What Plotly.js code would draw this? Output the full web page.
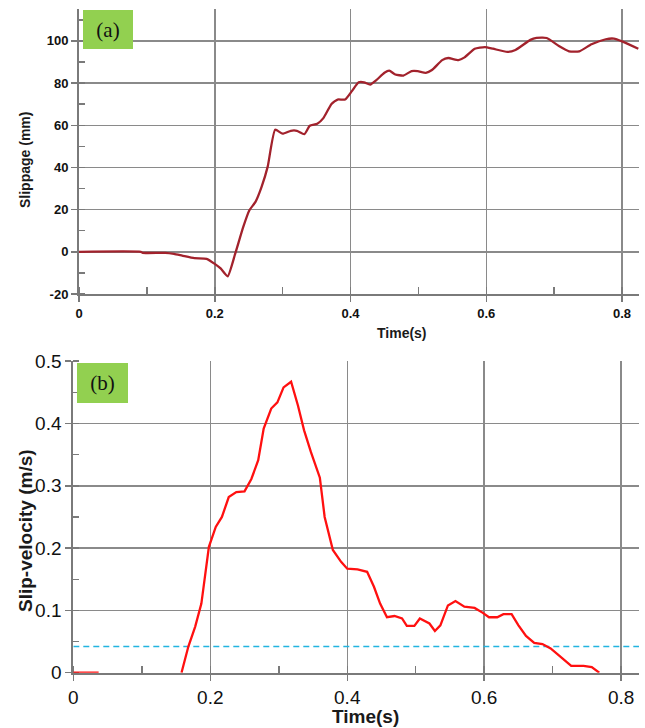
<!DOCTYPE html>
<html>
<head>
<meta charset="utf-8">
<script src="https://cdn.plot.ly/plotly-3.0.1.min.js"></script>
<style>
html,body{margin:0;padding:0;background:#fff;}
#chart{width:645px;height:728px;}
</style>
</head>
<body>
<div id="chart"></div>
<script>
// (a) Slippage vs time
const timeA = [0, 0.091, 0.094, 0.127, 0.14, 0.152, 0.17, 0.188, 0.2, 0.209, 0.219, 0.23, 0.242, 0.251, 0.26, 0.269, 0.278, 0.289, 0.3, 0.312, 0.321, 0.332, 0.34, 0.351, 0.36, 0.372, 0.381, 0.392, 0.402, 0.412, 0.42, 0.429, 0.438, 0.45, 0.457, 0.466, 0.478, 0.49, 0.499, 0.511, 0.52, 0.535, 0.544, 0.559, 0.568, 0.583, 0.598, 0.61, 0.631, 0.643, 0.665, 0.674, 0.689, 0.707, 0.722, 0.737, 0.755, 0.776, 0.788, 0.8, 0.824];
const slippage = [0, 0, -0.5, -0.5, -1, -1.8, -3, -3.3, -5.7, -8, -11.6, -1, 11.8, 19.7, 23.7, 30.8, 40.4, 57.9, 56, 57.4, 57.4, 55.8, 59.8, 60.7, 63.4, 70.1, 72.2, 72.2, 76.2, 80.4, 80.4, 79.3, 81.4, 84.9, 85.9, 84.1, 83.6, 85.7, 85.7, 84.9, 86.2, 90.9, 91.9, 90.9, 92.2, 96.3, 97.1, 96.3, 94.8, 95.7, 100.5, 101.4, 101.4, 97.6, 95.1, 95.1, 98.4, 100.8, 101.1, 99.8, 96.3];

// (b) Slip-velocity vs time (null = gap in the record)
const timeB = [0, 0.037, null, 0.158, 0.168, 0.178, 0.187, 0.198, 0.208, 0.217, 0.227, 0.238, 0.25, 0.26, 0.27, 0.278, 0.289, 0.298, 0.307, 0.318, 0.328, 0.337, 0.347, 0.36, 0.367, 0.379, 0.391, 0.4, 0.415, 0.429, 0.439, 0.448, 0.458, 0.469, 0.48, 0.487, 0.498, 0.506, 0.52, 0.528, 0.536, 0.547, 0.558, 0.571, 0.586, 0.598, 0.607, 0.619, 0.628, 0.64, 0.65, 0.661, 0.673, 0.685, 0.697, 0.709, 0.727, 0.745, 0.757, 0.768];
const slipVelocity = [0, 0, null, 0, 0.042, 0.074, 0.111, 0.202, 0.234, 0.25, 0.282, 0.29, 0.291, 0.311, 0.341, 0.392, 0.424, 0.434, 0.458, 0.467, 0.429, 0.389, 0.354, 0.313, 0.25, 0.197, 0.178, 0.167, 0.166, 0.162, 0.138, 0.111, 0.089, 0.091, 0.087, 0.075, 0.075, 0.087, 0.079, 0.067, 0.076, 0.108, 0.115, 0.106, 0.104, 0.096, 0.089, 0.089, 0.094, 0.094, 0.076, 0.059, 0.048, 0.046, 0.039, 0.028, 0.011, 0.011, 0.009, 0];

const threshold = 0.042;
const xRangeA = [0, 0.825];
const xRangeB = [0, 0.826];
const xTicks = [0, 0.2, 0.4, 0.6, 0.8];
const xTickText = ["0", "0.2", "0.4", "0.6", "0.8"];
const yTicksA = [-20, 0, 20, 40, 60, 80, 100];
const yTickTextA = ["-20", "0", "20", "40", "60", "80", "100"];
const yTicksB = [0, 0.1, 0.2, 0.3, 0.4, 0.5];
const yTickTextB = ["0", "0.1", "0.2", "0.3", "0.4", "0.5"];

const W = 645, H = 728;
const px = v => v / W;
const py = v => 1 - v / H;

const GRID = '#8a8a8a';
const AXIS = '#7a7a7a';
const FONT = 'Liberation Sans, Arial, sans-serif';

const traces = [
  {x: timeA, y: slippage, type: 'scatter', mode: 'lines', xaxis: 'x', yaxis: 'y',
   line: {color: '#a2222c', width: 2.3, shape: 'spline', smoothing: 0.5}, hoverinfo: 'skip'},
  {x: xRangeB, y: [threshold, threshold], type: 'scatter', mode: 'lines', xaxis: 'x2', yaxis: 'y2',
   line: {color: '#22b4e0', width: 1.6, dash: '6px,4px'}, hoverinfo: 'skip'},
  {x: timeB, y: slipVelocity, type: 'scatter', mode: 'lines', xaxis: 'x2', yaxis: 'y2',
   connectgaps: false, line: {color: '#ff1010', width: 2.3}, hoverinfo: 'skip', cliponaxis: false}
];

const commonAxis = {
  showline: true, linecolor: AXIS, linewidth: 2,
  showgrid: true, gridcolor: GRID, gridwidth: 1.5,
  zeroline: false, ticks: 'outside', ticklen: 6, tickcolor: AXIS, tickwidth: 1.5,
  fixedrange: true, layer: 'below traces'
};

const layout = {
  width: W, height: H,
  margin: {l: 0, r: 0, t: 0, b: 0},
  paper_bgcolor: '#ffffff', plot_bgcolor: '#ffffff',
  showlegend: false,
  xaxis: Object.assign({}, commonAxis, {
    domain: [px(79), px(639)], anchor: 'y', range: xRangeA,
    tickvals: xTicks, ticktext: xTickText,
    tickfont: {family: FONT, size: 13, color: '#111', weight: 'bold'},
    minor: {dtick: 0.1, tick0: 0, ticks: 'inside', ticklen: 7, tickcolor: AXIS, tickwidth: 1.5, showgrid: false}
  }),
  yaxis: Object.assign({}, commonAxis, {
    domain: [py(294), py(9.3)], anchor: 'x', range: [-20, 115],
    tickvals: yTicksA, ticktext: yTickTextA,
    tickfont: {family: FONT, size: 13, color: '#111', weight: 'bold'},
    minor: {dtick: 10, tick0: 0, ticks: 'inside', ticklen: 6, tickcolor: AXIS, tickwidth: 1.5, showgrid: false}
  }),
  xaxis2: Object.assign({}, commonAxis, {
    domain: [px(73.3), px(639)], anchor: 'y2', range: xRangeB,
    tickvals: xTicks, ticktext: xTickText,
    tickfont: {family: FONT, size: 19, color: '#111'},
    minor: {dtick: 0.1, tick0: 0, ticks: 'inside', ticklen: 7, tickcolor: AXIS, tickwidth: 1.5, showgrid: false}
  }),
  yaxis2: Object.assign({}, commonAxis, {
    domain: [py(672.7), py(360.7)], anchor: 'x2', range: [0, 0.5008],
    tickvals: yTicksB, ticktext: yTickTextB,
    tickfont: {family: FONT, size: 19, color: '#111'},
    minor: {dtick: 0.05, tick0: 0, ticks: 'inside', ticklen: 6, tickcolor: AXIS, tickwidth: 1.5, showgrid: false}
  }),
  annotations: [
    {text: '<b>Slippage (mm)</b>', xref: 'paper', yref: 'paper', x: px(25), y: py(160),
     textangle: -90, showarrow: false, xanchor: 'center', yanchor: 'middle',
     font: {family: FONT, size: 14, color: '#1a1a1a'}},
    {text: '<b>Time(s)</b>', xref: 'paper', yref: 'paper', x: px(402), y: py(333),
     showarrow: false, xanchor: 'center', yanchor: 'middle',
     font: {family: FONT, size: 14, color: '#1a1a1a'}},
    {text: '<b>Slip-velocity (m/s)</b>', xref: 'paper', yref: 'paper', x: px(25), y: py(531),
     textangle: -90, showarrow: false, xanchor: 'center', yanchor: 'middle',
     font: {family: FONT, size: 19, color: '#1a1a1a'}},
    {text: '<b>Time(s)</b>', xref: 'paper', yref: 'paper', x: px(365), y: py(716),
     showarrow: false, xanchor: 'center', yanchor: 'middle',
     font: {family: FONT, size: 19, color: '#1a1a1a'}},
    {text: '(a)', xref: 'paper', yref: 'paper', x: px(83), y: py(10),
     showarrow: false, xanchor: 'left', yanchor: 'top', width: 50, height: 39,
     bgcolor: '#92d050', borderpad: 0, borderwidth: 0, align: 'center', valign: 'middle',
     font: {family: 'Liberation Serif, Times New Roman, serif', size: 21, color: '#111'}},
    {text: '(b)', xref: 'paper', yref: 'paper', x: px(77), y: py(363),
     showarrow: false, xanchor: 'left', yanchor: 'top', width: 51, height: 40,
     bgcolor: '#92d050', borderpad: 0, borderwidth: 0, align: 'center', valign: 'middle',
     font: {family: 'Liberation Serif, Times New Roman, serif', size: 21, color: '#111'}}
  ]
};

Plotly.newPlot('chart', traces, layout, {displayModeBar: false, staticPlot: true});
</script>
</body>
</html>
